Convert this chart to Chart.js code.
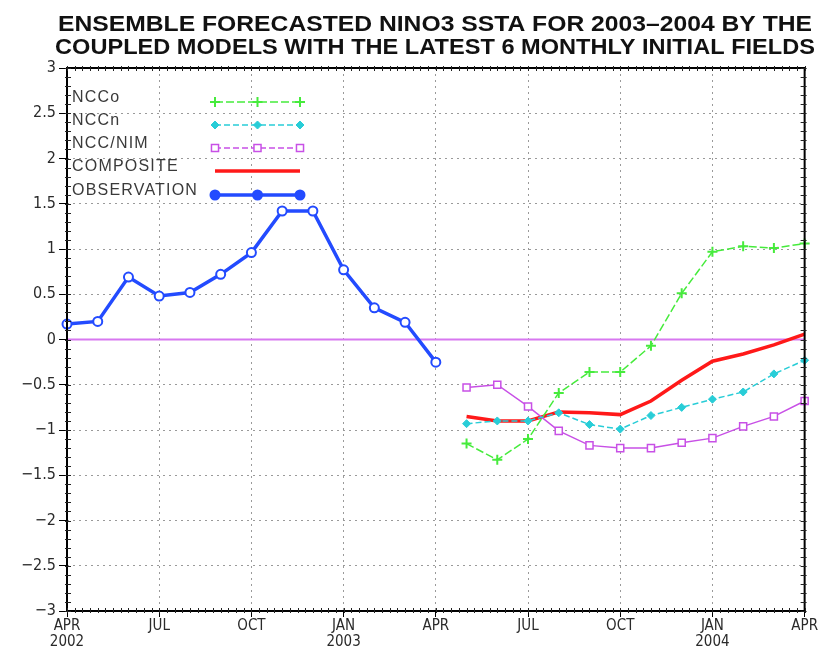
<!DOCTYPE html>
<html>
<head>
<meta charset="utf-8">
<script src="https://cdn.jsdelivr.net/npm/chart.js@4/dist/chart.umd.min.js"></script>
<style>
  html, body { margin: 0; padding: 0; background: #fff; }
  #wrap { width: 819px; height: 653px; }
</style>
</head>
<body>
<div id="wrap"><canvas id="c" width="819" height="653"></canvas></div>
<script>
// Monthly axis: APR 2002 .. APR 2004
const months = ['2002-04','2002-05','2002-06','2002-07','2002-08','2002-09','2002-10','2002-11','2002-12',
                '2003-01','2003-02','2003-03','2003-04','2003-05','2003-06','2003-07','2003-08','2003-09',
                '2003-10','2003-11','2003-12','2004-01','2004-02','2004-03','2004-04'];
const xTickLabels = [['APR','2002'],'JUL','OCT',['JAN','2003'],'APR','JUL','OCT',['JAN','2004'],'APR'];

const titleLines = ['ENSEMBLE FORECASTED NINO3 SSTA FOR 2003\u20132004 BY THE',
                    'COUPLED MODELS WITH THE LATEST 6 MONTHLY INITIAL FIELDS'];

// Observed NINO3 SSTA, APR 2002 .. APR 2003
const observation = [0.17, 0.20, 0.69, 0.48, 0.52, 0.72, 0.96, 1.42, 1.42, 0.77, 0.35, 0.19, -0.25];

// Forecasts, MAY 2003 .. APR 2004
const nccO      = [-1.15, -1.33, -1.10, -0.59, -0.36, -0.36, -0.07, 0.51, 0.97, 1.03, 1.01, 1.06];
const nccN      = [-0.93, -0.90, -0.90, -0.81, -0.94, -0.99, -0.84, -0.75, -0.66, -0.58, -0.38, -0.23];
const nccNim    = [-0.53, -0.50, -0.74, -1.01, -1.17, -1.20, -1.20, -1.14, -1.09, -0.96, -0.85, -0.68];
const composite = [-0.85, -0.90, -0.90, -0.80, -0.81, -0.83, -0.68, -0.45, -0.24, -0.16, -0.06, 0.06];

const obsSeries = observation.concat(new Array(months.length - observation.length).fill(null));
const pad = new Array(months.length - nccO.length).fill(null);
const fc = arr => pad.concat(arr);

const FONT_NARROW = '"Liberation Sans Narrow", "DejaVu Sans Condensed", "Liberation Sans", sans-serif';
const GRID_COLOR = '#9a9a9a';

const COLORS = {
  nccO: 'rgb(70,235,60)',
  nccN: 'rgb(40,205,215)',
  nim:  'rgb(200,80,230)',
  comp: 'rgb(255,25,25)',
  obs:  'rgb(35,75,255)',
  zero: 'rgb(215,120,240)'
};

const legendItems = [
  { text: 'NCCo',        color: COLORS.nccO, width: 1.5, dash: [8,3], style: 'cross' },
  { text: 'NCCn',        color: COLORS.nccN, width: 1.5, dash: [6,3], style: 'rectRot' },
  { text: 'NCC/NIM',     color: COLORS.nim,  width: 1.5, dash: [6,3], style: 'rect' },
  { text: 'COMPOSITE',   color: COLORS.comp, width: 3.5, dash: [],    style: null },
  { text: 'OBSERVATION', color: COLORS.obs,  width: 3.5, dash: [],    style: 'circle' }
];

// Title, zero line, frame with minor ticks, and in-plot legend
const decor = {
  id: 'decor',
  beforeDatasetsDraw(chart) {
    const { ctx, chartArea: a, scales: { y } } = chart;
    const y0 = y.getPixelForValue(0);
    ctx.save();
    ctx.strokeStyle = COLORS.zero;
    ctx.lineWidth = 2;
    ctx.beginPath();
    ctx.moveTo(a.left, y0);
    ctx.lineTo(a.right, y0);
    ctx.stroke();
    ctx.restore();
  },
  afterDraw(chart) {
    const { ctx, chartArea: a, scales: { x, y } } = chart;
    ctx.save();

    // title, stretched to span the header
    ctx.fillStyle = '#111';
    ctx.font = 'bold 21px "Liberation Sans", "DejaVu Sans", sans-serif';
    ctx.textBaseline = 'alphabetic';
    const spans = [[58, 812, 31], [55, 815, 54]];
    titleLines.forEach((t, i) => {
      const [l, r, b] = spans[i];
      const w = ctx.measureText(t).width;
      ctx.save();
      ctx.translate(l, b);
      ctx.scale((r - l) / w, 1.08);
      ctx.fillText(t, 0, 0);
      ctx.restore();
    });

    // frame
    ctx.strokeStyle = '#000';
    ctx.lineWidth = 2;
    ctx.strokeRect(a.left, a.top, a.right - a.left, a.bottom - a.top);

    // minor ticks on left/right every 0.1
    ctx.lineWidth = 1;
    ctx.strokeStyle = '#222';
    ctx.beginPath();
    for (let k = -30; k <= 30; k++) {
      const py = Math.round(y.getPixelForValue(k / 10)) + 0.5;
      ctx.moveTo(a.left - 2, py); ctx.lineTo(a.left + 4, py);
      ctx.moveTo(a.right - 4, py); ctx.lineTo(a.right + 2, py);
    }
    // minor ticks on top/bottom every quarter month
    for (let k = 0; k <= (months.length - 1) * 4; k++) {
      const px = Math.round(x.getPixelForValue(k / 4)) + 0.5;
      ctx.moveTo(px, a.bottom - 3); ctx.lineTo(px, a.bottom + 2);
      ctx.moveTo(px, a.top - 2); ctx.lineTo(px, a.top + 3);
    }
    ctx.stroke();

    // legend
    const rows = [98, 121, 144, 167, 191];
    const lx0 = 215, lx1 = 300;
    ctx.font = '16px "Liberation Sans", "DejaVu Sans", sans-serif';
    ctx.letterSpacing = '1.2px';
    ctx.textBaseline = 'middle';
    legendItems.forEach((it, i) => {
      const ty = rows[i];
      const ly = ty + 4;
      ctx.fillStyle = '#3a3a3a';
      ctx.fillText(it.text, 72, ty);
      ctx.strokeStyle = it.color;
      ctx.lineWidth = it.width;
      ctx.setLineDash(it.dash);
      ctx.beginPath();
      ctx.moveTo(lx0, ly); ctx.lineTo(lx1, ly);
      ctx.stroke();
      ctx.setLineDash([]);
      if (it.style) {
        [lx0, (lx0 + lx1) / 2, lx1].forEach(px => {
          const opts = it.style === 'cross'
            ? { pointStyle: 'cross', radius: 5, borderWidth: 2, borderColor: it.color, backgroundColor: it.color }
            : it.style === 'rectRot'
            ? { pointStyle: 'rectRot', radius: 4, borderWidth: 1, borderColor: it.color, backgroundColor: it.color }
            : it.style === 'rect'
            ? { pointStyle: 'rect', radius: 5, borderWidth: 1.5, borderColor: it.color, backgroundColor: '#fff' }
            : { pointStyle: 'circle', radius: 4.5, borderWidth: 2, borderColor: it.color, backgroundColor: it.color };
          ctx.strokeStyle = opts.borderColor;
          ctx.fillStyle = opts.backgroundColor;
          ctx.lineWidth = opts.borderWidth;
          Chart.helpers.drawPoint(ctx, opts, px, ly);
        });
      }
    });
    ctx.restore();
  }
};

new Chart(document.getElementById('c'), {
  type: 'line',
  data: {
    labels: months,
    datasets: [
      {
        label: 'NCCo', data: fc(nccO),
        borderColor: COLORS.nccO, backgroundColor: COLORS.nccO,
        borderWidth: 1.5, borderDash: [8, 3],
        pointStyle: 'cross', pointRadius: 5, pointBorderWidth: 2
      },
      {
        label: 'NCCn', data: fc(nccN),
        borderColor: COLORS.nccN, backgroundColor: COLORS.nccN,
        borderWidth: 1.5, borderDash: [6, 3],
        pointStyle: 'rectRot', pointRadius: 4, pointBorderWidth: 1
      },
      {
        label: 'NCC/NIM', data: fc(nccNim),
        borderColor: COLORS.nim, backgroundColor: '#fff',
        borderWidth: 1.5,
        pointStyle: 'rect', pointRadius: 5, pointBorderWidth: 1.5
      },
      {
        label: 'COMPOSITE', data: fc(composite),
        borderColor: COLORS.comp, backgroundColor: COLORS.comp,
        borderWidth: 3.5, pointRadius: 0
      },
      {
        label: 'OBSERVATION', data: obsSeries,
        borderColor: COLORS.obs, backgroundColor: '#fff',
        borderWidth: 3.5,
        pointStyle: 'circle', pointRadius: 4.5, pointBorderWidth: 2
      }
    ]
  },
  options: {
    responsive: false,
    animation: false,
    spanGaps: false,
    layout: { autoPadding: false, padding: { top: 68, right: 13, left: 0, bottom: 0 } },
    plugins: {
      legend: { display: false },
      title: { display: false },
      tooltip: { enabled: false }
    },
    elements: { line: { tension: 0 } },
    scales: {
      x: {
        type: 'category',
        offset: false,
        afterFit(scale) { scale.height = 42; },
        border: { display: false, dash: [2, 4] },
        grid: {
          color: c => (c.index % 3 === 0 && c.index > 0 && c.index < months.length - 1) ? GRID_COLOR : 'rgba(0,0,0,0)',
          tickColor: c => (c.index % 3 === 0) ? '#000' : 'rgba(0,0,0,0)',
          lineWidth: 1,
          tickLength: 6
        },
        ticks: {
          autoSkip: false,
          maxRotation: 0,
          padding: 1,
          color: '#2a2a2a',
          font: { family: FONT_NARROW, size: 15, lineHeight: 1.05 },
          callback: (v, i) => (i % 3 === 0 ? xTickLabels[i / 3] : '')
        }
      },
      y: {
        min: -3, max: 3,
        afterFit(scale) { scale.width = 67; },
        border: { display: false, dash: [2, 4] },
        grid: {
          color: c => (Math.abs(c.tick.value) < 1e-9 || Math.abs(Math.abs(c.tick.value) - 3) < 1e-9) ? 'rgba(0,0,0,0)' : GRID_COLOR,
          tickColor: '#000',
          lineWidth: 1,
          tickLength: 8
        },
        ticks: {
          stepSize: 0.5,
          padding: 3,
          color: '#2a2a2a',
          font: { family: FONT_NARROW, size: 16 },
          callback: v => (v < 0 ? '\u2212' + Math.abs(v) : String(v))
        }
      }
    }
  },
  plugins: [decor]
});
</script>
</body>
</html>
